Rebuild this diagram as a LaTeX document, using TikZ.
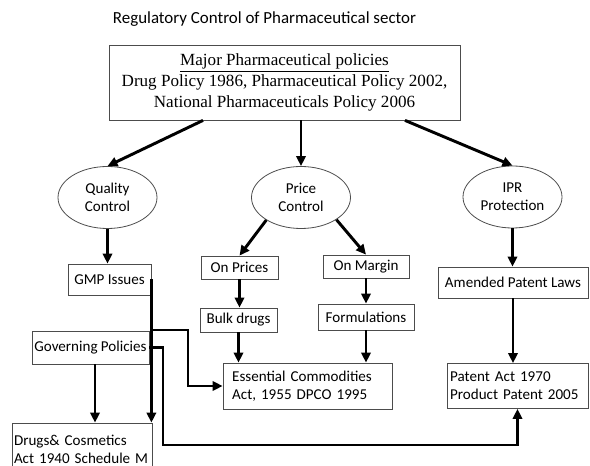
\documentclass[tikz,border=0pt]{standalone}
\usepackage{fontspec}
\setmainfont{Liberation Serif}
\newfontfamily\calfont{Carlito}
\usetikzlibrary{shapes.geometric,arrows.meta,calc}

\begin{document}
\begin{tikzpicture}[x=0.75pt,y=-0.75pt,
  boxline/.style={draw=black!70,line width=0.6pt},
  smallbox/.style={boxline,rectangle,inner sep=0pt,font=\calfont\fontsize{11.3}{13.6}\selectfont},
  oval/.style={boxline,ellipse,inner sep=0pt,minimum width=74.25pt,minimum height=46.5pt,
    align=center,font=\calfont\fontsize{11.3}{13.6}\selectfont},
  arr/.style={line width=2.2pt,-{Triangle[length=7.5pt,width=7pt]}}]
\useasboundingbox (0,0) rectangle (590,466);

% heading
\node[font=\calfont\fontsize{12.7}{15}\selectfont] (title) at (264.5,19) {Regulatory Control of Pharmaceutical sector};

% top box
\node[boxline,rectangle,inner sep=0pt,minimum width=263.25pt,minimum height=56.25pt,align=center,
  font=\fontsize{12.8}{15.9}\selectfont] (major) at (284.5,82.5)
  {\underline{Major Pharmaceutical policies}\\Drug Policy 1986, Pharmaceutical Policy 2002,\\National Pharmaceuticals Policy 2006};

% three branches
\node[oval] (quality) at (107.5,197.5) {Quality\\Control};
\node[oval] (price) at (301,197.5) {Price\\Control};
\node[oval] (ipr) at (512.5,197) {IPR\\Protection};

% boxes below
\node[smallbox,minimum width=62.25pt,minimum height=23.25pt] (gmp) at (109.5,279.5) {GMP Issues};
\node[smallbox,minimum width=87.75pt,minimum height=24.75pt] (gov) at (90.5,347.5) {Governing Policies};
\node[smallbox,minimum width=105pt,minimum height=39pt,text width=102pt,align=left] (drugs) at (82,449)
  {Drugs\& Cosmetics\\Act 1940 Schedule M};

\node[smallbox,minimum width=57.75pt,minimum height=17.25pt] (onprices) at (239.5,267.5) {On Prices};
\node[smallbox,minimum width=57.75pt,minimum height=18pt] (bulk) at (238.5,320) {Bulk drugs};
\node[smallbox,minimum width=64.5pt,minimum height=17.25pt] (onmargin) at (366,266.5) {On Margin};
\node[smallbox,minimum width=72pt,minimum height=19.5pt] (form) at (366,317) {Formulations};
\node[smallbox,minimum width=126.75pt,minimum height=34.5pt,text width=113pt,align=left] (ess) at (307.5,386)
  {Essential Commodities\\Act, 1955 DPCO 1995};

\node[smallbox,minimum width=112.5pt,minimum height=23.25pt] (amended) at (513,282.5) {Amended Patent Laws};
\node[smallbox,minimum width=105.75pt,minimum height=33.75pt,text width=101pt,align=left] (patent) at (517.5,386)
  {Patent Act 1970\\Product Patent 2005};

% routing points for the elbow connectors
\coordinate (essjog) at (188,330);
\coordinate (patjog) at (163,445);

% connectors from the top box
\draw[arr] ($(major.south)+(-81.5,0)$) -- (quality.north);
\draw[arr] (major.south -| price.north) -- (price.north);
\draw[arr] ($(major.south)+(120.5,0)$) -- (ipr.north);

% quality control column
\draw[arr] (quality.south) -- (quality.south |- gmp.north);
\draw[arr] (gmp.east) -- (gmp.east |- drugs.north);
\draw[arr] (gmp.east) |- (essjog) |- (ess.west);
\draw[arr] ($(gov.south)+(4.5,0)$) -- ($(gov.south |- drugs.north)+(4.5,0)$);
\draw[arr] (gov.east) -| (patjog) -| (patent.south);

% price control column
\draw[arr] (price.213) -- (onprices.north);
\draw[arr] (price.-32) -- (onmargin.north);
\draw[arr] (onprices.south) -- (onprices.south |- bulk.north);
\draw[arr] (bulk.south) -- (bulk.south |- ess.north);
\draw[arr] (onmargin.south) -- (onmargin.south |- form.north);
\draw[arr] (form.south) -- (form.south |- ess.north);

% IPR column
\draw[arr] (ipr.south) -- (ipr.south |- amended.north);
\draw[arr] (amended.south) -- (amended.south |- patent.north);
\end{tikzpicture}
\end{document}
